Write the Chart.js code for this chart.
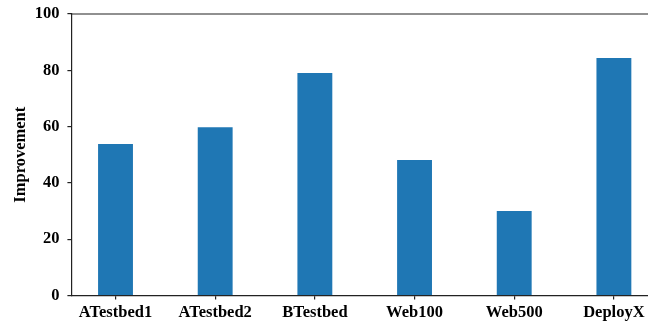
<!DOCTYPE html>
<html>
<head>
<meta charset="utf-8">
<script src="https://cdn.jsdelivr.net/npm/chart.js@4"></script>
<style>
  html, body { margin: 0; padding: 0; background: #fff; }
  #wrap { width: 648px; height: 325px; overflow: hidden; position: relative; }
  #chart { display: block; }
</style>
</head>
<body>
<div id="wrap"><canvas id="chart" width="660" height="325"></canvas></div>
<script>
const categories = ["ATestbed1", "ATestbed2", "BTestbed", "Web100", "Web500", "DeployX"];
const improvement = [53.8, 59.8, 79.0, 48.1, 30.0, 84.4];
const yTicks = [0, 20, 40, 60, 80, 100];

const AXIS = '#222';
const FONT = { family: '"Liberation Serif", "Times New Roman", serif', size: 16.5, weight: 'bold' };

// top frame line across the plot area
const topSpine = {
  id: 'topSpine',
  afterDraw(chart) {
    const { ctx, chartArea } = chart;
    ctx.save();
    ctx.strokeStyle = AXIS;
    ctx.lineWidth = 1.2;
    ctx.beginPath();
    ctx.moveTo(chartArea.left - 0.6, chartArea.top);
    ctx.lineTo(chartArea.right, chartArea.top);
    ctx.stroke();
    ctx.restore();
  }
};

new Chart(document.getElementById('chart'), {
  type: 'bar',
  data: {
    datasets: [{
      label: 'Improvement',
      data: categories.map((c, i) => ({ x: i, y: improvement[i] })),
      backgroundColor: '#1f77b4',
      borderWidth: 0,
      barPercentage: 0.35,
      categoryPercentage: 1.0
    }]
  },
  plugins: [topSpine],
  options: {
    responsive: false,
    animation: false,
    devicePixelRatio: 1,
    layout: { padding: { top: 14, right: 2, left: 0, bottom: 0 } },
    plugins: { legend: { display: false }, tooltip: { enabled: false } },
    scales: {
      x: {
        type: 'linear',
        offset: false,
        min: -0.4425,
        max: 5.4425,
        afterBuildTicks(scale) { scale.ticks = categories.map((c, i) => ({ value: i })); },
        afterFit(scale) { scale.height = 29.5; scale.paddingLeft = 0; scale.paddingRight = 0; },
        ticks: {
          color: '#000',
          font: FONT,
          padding: 3,
          maxRotation: 0,
          autoSkip: false,
          callback: (v) => categories[v]
        },
        grid: { offset: false, drawOnChartArea: false, drawTicks: true, tickLength: 4, color: AXIS, lineWidth: 1.2 },
        border: { display: true, color: AXIS, width: 1.2 }
      },
      y: {
        min: 0,
        max: 100,
        afterBuildTicks(scale) { scale.ticks = yTicks.map(v => ({ value: v })); },
        afterFit(scale) { scale.width = 71.4; scale.paddingTop = 0; scale.paddingBottom = 0; },
        ticks: { color: '#000', font: FONT, padding: 8 },
        grid: { drawOnChartArea: false, drawTicks: true, tickLength: 4, color: AXIS, lineWidth: 1.2 },
        border: { display: true, color: AXIS, width: 1.2 },
        title: { display: true, text: 'Improvement', color: '#000', font: FONT, padding: { top: 11, bottom: 0 } }
      }
    }
  }
});
</script>
</body>
</html>
